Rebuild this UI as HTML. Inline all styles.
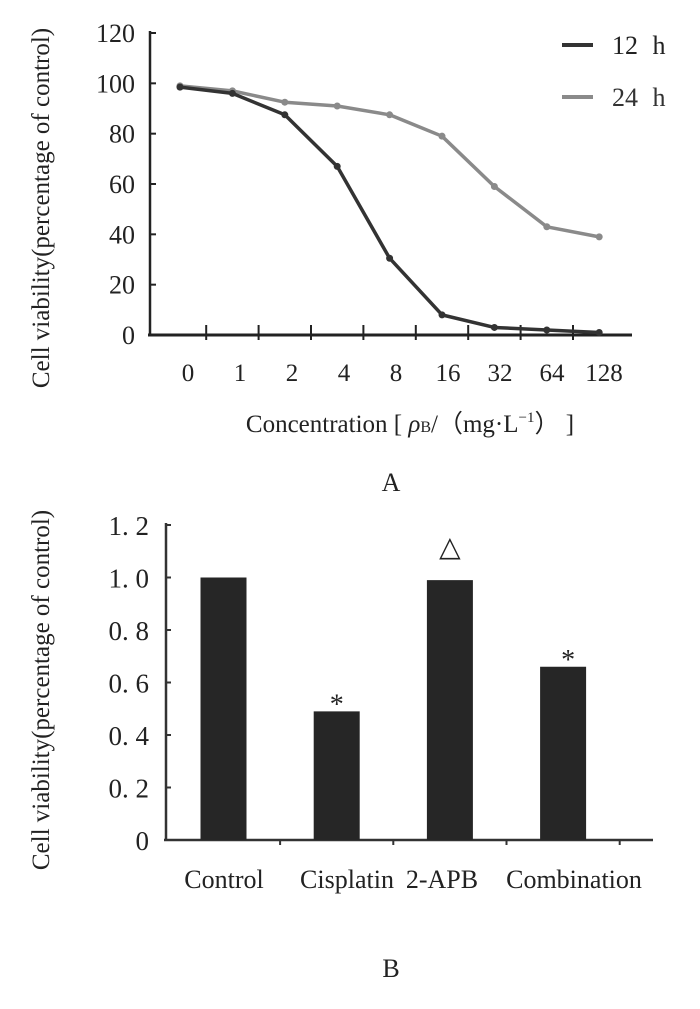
<!DOCTYPE html>
<html><head><meta charset="utf-8"><style>
html,body{margin:0;padding:0;background:#fff;}
svg{display:block;font-family:"Liberation Serif",serif;}
</style></head><body>
<svg id="chart" width="700" height="1009" viewBox="0 0 700 1009">
<g id="A"></g>
<g id="B"></g>
</svg>
<script>
// Panel A data
const concLabels = ["0","1","2","4","8","16","32","64","128"];
const series12h = [98.5, 96, 87.5, 67, 30.5, 8, 3, 2, 1];
const series24h = [99, 97, 92.5, 91, 87.5, 79, 59, 43, 39];
const yTicksA = [0, 20, 40, 60, 80, 100, 120];
// Panel B data
const groups = ["Control","Cisplatin","2-APB","Combination"];
const viability = [1.0, 0.49, 0.99, 0.66];
const marks = ["", "*", "\u25B3", "*"];
const yTicksB = [0, 0.2, 0.4, 0.6, 0.8, 1.0, 1.2];
const yTickLabelsB = ["0","0. 2","0. 4","0. 6","0. 8","1. 0","1. 2"];

const NS = "http://www.w3.org/2000/svg";
function mk(parent, tag, attrs, text){
  const e = document.createElementNS(NS, tag);
  for (const k in attrs) e.setAttribute(k, attrs[k]);
  if (text !== undefined) e.textContent = text;
  parent.appendChild(e);
  return e;
}
// ---------- Panel A ----------
const A = document.getElementById("A");
const yA = v => 335 - v * (302/120);
const xA = i => 180 + i * 52.4;
const xLabA = i => 188 + i * 52;
let e;
e = mk(A, "line", {x1:150,y1:31,x2:150,y2:336,stroke:"#222","stroke-width":2.5});


e = mk(A, "line", {x1:148,y1:335,x2:632,y2:335,stroke:"#222","stroke-width":3});


yTicksA.forEach(v => {
  const y = yA(v);
  e = mk(A, "line", {x1:150,y1:y,x2:156,y2:y,stroke:"#222","stroke-width":2});
  
  
  e = mk(A, "text", {x:135,y:y+9,"text-anchor":"end","font-size":26,fill:"#222"}, String(v));
  
  
});
concLabels.forEach((l, i) => {
  if (i < concLabels.length - 1) {
    const tx = (xA(i) + xA(i+1)) / 2;
    e = mk(A, "line", {x1:tx,y1:325,x2:tx,y2:340,stroke:"#222","stroke-width":2});
    
    
  }
  e = mk(A, "text", {x:xLabA(i),y:381,"text-anchor":"middle","font-size":25,fill:"#222"}, l);
  
  
});
function drawSeries(vals, color, name){
  const pts = vals.map((v,i) => xA(i) + "," + yA(v)).join(" ");
  e = mk(A, "polyline", {points:pts,fill:"none",stroke:color,"stroke-width":3.5,"stroke-linejoin":"round"});
  
  
  vals.forEach((v,i) => {
    e = mk(A, "circle", {cx:xA(i),cy:yA(v),r:3.5,fill:color});
    
    
  });
}
drawSeries(series24h, "#8a8a8a", "series-24h");
drawSeries(series12h, "#333", "series-12h");
// legend
e = mk(A, "line", {x1:562,y1:45,x2:593,y2:45,stroke:"#333","stroke-width":4});


e = mk(A, "text", {x:612,y:54,"font-size":26,fill:"#222","word-spacing":"8"}, "12 h");


e = mk(A, "line", {x1:562,y1:97,x2:593,y2:97,stroke:"#8a8a8a","stroke-width":4});


e = mk(A, "text", {x:612,y:106,"font-size":26,fill:"#333","word-spacing":"8"}, "24 h");


e = mk(A, "text", {x:0,y:0,"text-anchor":"middle","font-size":25,fill:"#222",transform:"translate(49,208) rotate(-90)"}, "Cell viability(percentage of control)");


e = mk(A, "text", {x:410,y:432,"text-anchor":"middle","font-size":25,fill:"#222"});
e.innerHTML = 'Concentration [ <tspan font-style="italic">ρ</tspan><tspan font-size="16">B</tspan>/（mg·L<tspan font-size="15" dy="-10">−1</tspan><tspan dy="10">） ]</tspan>';


e = mk(A, "text", {x:391,y:491,"text-anchor":"middle","font-size":26,fill:"#222"}, "A");



// ---------- Panel B ----------
const B = document.getElementById("B");
const yB = v => 840 - v * 262.5;
const xB = i => 223.5 + i * 113.2;
const bw = 46;
e = mk(B, "line", {x1:166,y1:523,x2:166,y2:841,stroke:"#333","stroke-width":2.5});


e = mk(B, "line", {x1:164,y1:840,x2:653,y2:840,stroke:"#333","stroke-width":2.5});


yTicksB.forEach((v, i) => {
  const y = yB(v);
  e = mk(B, "line", {x1:166,y1:y,x2:171,y2:y,stroke:"#333","stroke-width":2});
  
  
  e = mk(B, "text", {x:149,y:y+10,"text-anchor":"end","font-size":27,fill:"#222","xml:space":"preserve"}, yTickLabelsB[i]);
  
  
});
groups.forEach((g, i) => {
  const cx = xB(i);
  const tx = cx + 56.6;
  e = mk(B, "line", {x1:tx,y1:840,x2:tx,y2:845,stroke:"#333","stroke-width":2});
  
  
  e = mk(B, "rect", {x:cx-bw/2,y:yB(viability[i]),width:bw,height:840-yB(viability[i]),fill:"#262626"});
  
  
  if (marks[i]) {
    const isTri = marks[i] !== "*";
    e = mk(B, "text", {x:cx+(i===3?5:0),y:yB(viability[i]) - (isTri?24:-2),"text-anchor":"middle","font-size":isTri?28:28,fill:"#222"}, marks[i]);
    
    
  }
});
const catLabX = [224, 347, 442, 574];
groups.forEach((g, i) => {
  e = mk(B, "text", {x:catLabX[i],y:888,"text-anchor":"middle","font-size":26,fill:"#222"}, g);
  
  
});
e = mk(B, "text", {x:0,y:0,"text-anchor":"middle","font-size":25,fill:"#222",transform:"translate(49,690) rotate(-90)"}, "Cell viability(percentage of control)");


e = mk(B, "text", {x:391,y:977,"text-anchor":"middle","font-size":26,fill:"#222"}, "B");


</script>
</body></html>
